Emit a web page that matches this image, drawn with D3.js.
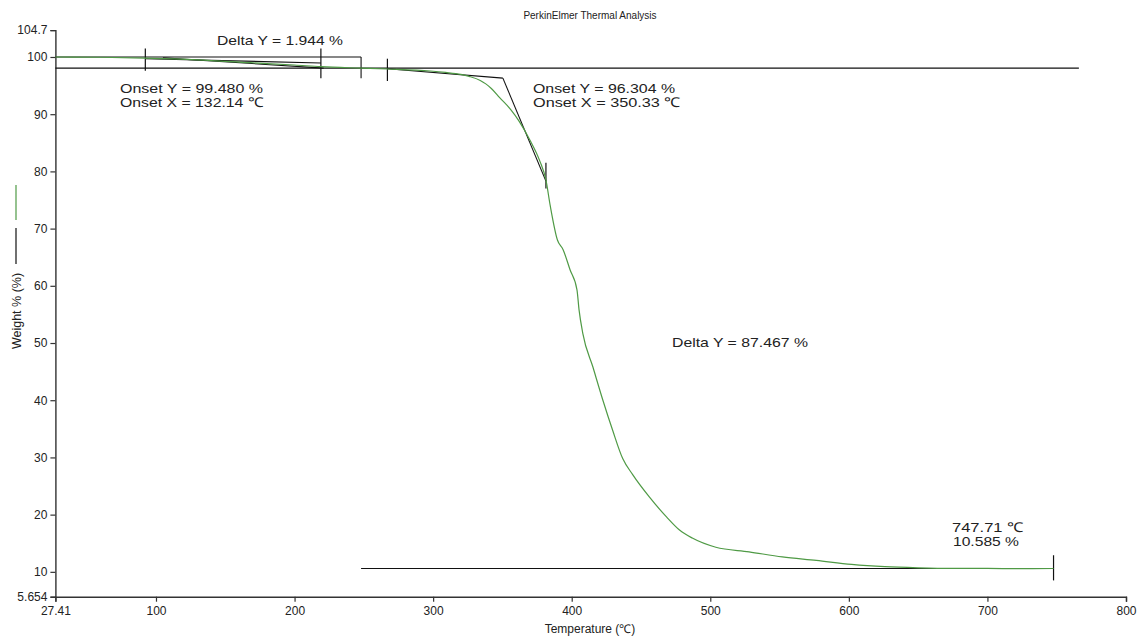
<!DOCTYPE html>
<html><head><meta charset="utf-8">
<script src="https://cdn.jsdelivr.net/npm/d3@7"></script>
<style>
html,body{margin:0;padding:0;background:#fff;}
text{font-family:"Liberation Sans",Arial,sans-serif;fill:#222;}
</style></head>
<body><svg id="c" width="1142" height="644"></svg>
<script>
// ---- data ----
const temperature = [27.41,60,92,130,168,200,219,248,267,298,309,320,326,334,338,342,348,356,362,370,377,381.4,384.5,389.7,393.8,398.8,403.8,405.3,408,415.3,422.5,429.6,436.8,444,456,468.4,477.8,487,504,528,552,576.5,602,626,650,674,700,722,747.71];
const weight      = [100.0,99.95,99.8,99.5,99.0,98.6,98.3,98.05,97.9,97.55,97.3,96.95,96.6,95.9,95.3,94.5,92.9,90.8,88.8,85.4,81.8,78.5,74.0,68.0,66.3,62.8,59.3,55.8,51.7,45.8,40.0,34.7,29.8,27.0,23.1,19.6,17.3,15.9,14.3,13.5,12.6,12.0,11.3,10.9,10.7,10.6,10.6,10.55,10.585];

const xTickValues = [27.41,100,200,300,400,500,600,700,800];
const xTickLabels = ["27.41","100","200","300","400","500","600","700","800"];
const yTickValues = [5.654,10,20,30,40,50,60,70,80,90,100,104.7];
const yTickLabels = ["5.654","10","20","30","40","50","60","70","80","90","100","104.7"];

// analysis construction lines, in data units [T1, W1, T2, W2]
const analysisLines = [
  [27.41, 100, 248, 100],          // delta Y upper level
  [248, 100, 248, 96.3],           // delta Y right drop
  [27.41, 98.056, 766, 98.056],    // delta Y lower level
  [92.3, 99.7, 219, 98.95],        // onset 1 baseline tangent
  [105, 99.85, 221, 98.05],        // onset 1 second tangent
  [267, 97.95, 350.33, 96.304],    // onset 2 baseline tangent
  [350.33, 96.304, 381.4, 78.3],   // onset 2 steep tangent
  [248, 10.585, 747.71, 10.585]    // residue level
];
// short vertical limit markers [T, Wtop, Wbottom]
const limitMarks = [
  [92.3, 101.5, 97.6],
  [219, 101.5, 96.3],
  [267, 99.7, 95.8],
  [381.4, 81.5, 77.0],
  [747.71, 12.9, 8.5]
];

// annotation texts: [text, x px, baseline px, anchor, width px]
const annotations = [
  ["Delta Y = 1.944 %", 217, 45, "start", 126],
  ["Onset Y = 99.480 %", 120, 93, "start", 143],
  ["Onset X = 132.14 ℃", 120, 107, "start", 143],
  ["Onset Y = 96.304 %", 533, 93, "start", 142],
  ["Onset X = 350.33 ℃", 533, 107, "start", 147],
  ["Delta Y = 87.467 %", 672, 347, "start", 136],
  ["747.71 ℃", 952, 532, "start", 71],
  ["10.585 %", 953, 546, "start", 66]
];

const svg = d3.select("#c");
const x = d3.scaleLinear().domain([27.41, 800]).range([55.4, 1126]);
const y = d3.scaleLinear().domain([5.654, 104.7]).range([596.7, 30.1]);

// axes
const xAxis = d3.axisBottom(x).tickValues(xTickValues).tickFormat((d,i)=>xTickLabels[i]).tickSizeOuter(0).tickSize(5).tickPadding(5);
const yAxis = d3.axisLeft(y).tickValues(yTickValues).tickFormat((d,i)=>yTickLabels[i]).tickSizeOuter(0).tickSize(5).tickPadding(3);
const gx = svg.append("g").attr("transform",`translate(0,${y(5.654)})`).call(xAxis);
const gy = svg.append("g").attr("transform",`translate(${x(27.41)},0)`).call(yAxis);
[gx,gy].forEach(g=>{
  g.select(".domain").attr("stroke","#333").attr("stroke-width",1.4);
  g.selectAll(".tick line").attr("stroke","#333").attr("stroke-width",1.2);
  g.selectAll(".tick text").style("font-size","12px").style("font-family","'Liberation Sans',Arial,sans-serif").attr("fill","#333");
});

// analysis lines
svg.append("g").selectAll("line").data(analysisLines).join("line")
  .attr("x1",d=>x(d[0])).attr("y1",d=>y(d[1])).attr("x2",d=>x(d[2])).attr("y2",d=>y(d[3]))
  .attr("stroke","#111").attr("stroke-width",1.1);
svg.append("g").selectAll("line").data(limitMarks).join("line")
  .attr("x1",d=>x(d[0])).attr("x2",d=>x(d[0])).attr("y1",d=>y(d[1])).attr("y2",d=>y(d[2]))
  .attr("stroke","#111").attr("stroke-width",1.2);

// TGA curve
const pts = temperature.map((t,i)=>[t,weight[i]]);
svg.append("path").datum(pts)
  .attr("d", d3.line().x(d=>x(d[0])).y(d=>y(d[1])).curve(d3.curveMonotoneX))
  .attr("fill","none").attr("stroke","#4f9a45").attr("stroke-width",1.2);

// texts
svg.append("text").attr("x",590).attr("y",19).attr("text-anchor","middle").style("font-size","10px").text("PerkinElmer Thermal Analysis");
svg.append("text").attr("x",590).attr("y",633).attr("text-anchor","middle").style("font-size","12px").text("Temperature (℃)");
svg.append("text").attr("transform","translate(21,311) rotate(-90)").attr("text-anchor","middle").style("font-size","12.5px").text("Weight % (%)");
svg.append("line").attr("x1",16).attr("x2",16).attr("y1",185).attr("y2",220).attr("stroke","#4f9a45").attr("stroke-width",1.2);
svg.append("line").attr("x1",16).attr("x2",16).attr("y1",228).attr("y2",264).attr("stroke","#111").attr("stroke-width",1.2);

svg.append("g").selectAll("text").data(annotations).join("text")
  .attr("x",d=>d[1]).attr("y",d=>d[2]).attr("text-anchor",d=>d[3])
  .attr("textLength",d=>d[4]).attr("lengthAdjust","spacingAndGlyphs")
  .style("font-size","13.5px").text(d=>d[0]);
</script></body></html>
